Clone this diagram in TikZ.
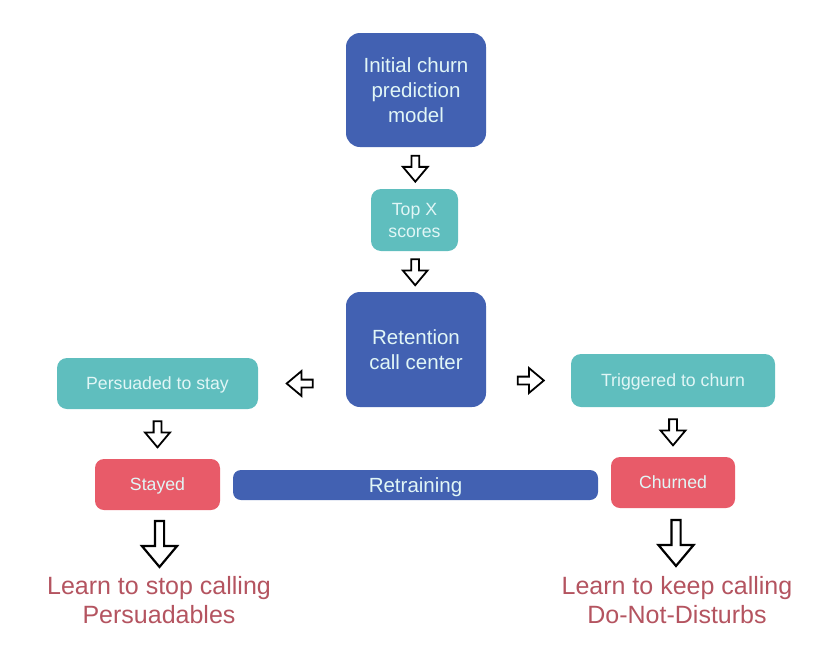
\documentclass[tikz,border=0pt]{standalone}
\usepackage{fontspec}
\setmainfont{Liberation Sans}
\usetikzlibrary{shapes.arrows}
\usetikzlibrary{calc}
\definecolor{boxblue}{RGB}{66,97,178}
\definecolor{boxteal}{RGB}{95,190,190}
\definecolor{boxred}{RGB}{232,91,105}
\definecolor{learnred}{RGB}{180,84,96}
\definecolor{boxtext}{RGB}{225,246,246}
\tikzset{
	bigbox/.style={rectangle,rounded corners=14pt,fill=boxblue,text=boxtext,align=center,inner sep=0pt,text depth=0pt,font=\fontsize{20.5}{25}\selectfont},
	tealbox/.style={rectangle,rounded corners=10pt,fill=boxteal,text=boxtext,align=center,inner sep=0pt,text depth=0pt,font=\fontsize{17.7}{22}\selectfont},
	redbox/.style={rectangle,rounded corners=9pt,fill=boxred,text=boxtext,align=center,inner sep=0pt,text depth=0pt,font=\fontsize{17.7}{22}\selectfont},
	learn/.style={text=learnred,align=center,inner sep=0pt,font=\fontsize{25}{29}\selectfont},
	blockarrow/.style={single arrow,draw=black,fill=white,line width=1.8pt,inner sep=3pt,minimum height=26pt,single arrow head extend=8.5pt,single arrow tip angle=80},
	bigarrow/.style={single arrow,draw=black,fill=white,line width=2.2pt,inner sep=3.5pt,minimum height=46pt,single arrow head extend=13pt,single arrow tip angle=80},
}

\begin{document}
\begin{tikzpicture}[x=1pt,y=-1pt]
\useasboundingbox (0,0) rectangle (838,659);

\node[bigbox,minimum width=140pt,minimum height=114pt] (model) at (416,90) {Initial churn\\prediction\\model};
\node[tealbox,minimum width=87pt,minimum height=62pt] (topx) at (414.5,220) {Top X\\scores};
\node[bigbox,minimum width=140pt,minimum height=115pt] (callctr) at (416,349.5) {Retention\\call center};
\node[tealbox,minimum width=201pt,minimum height=51pt] (persuaded) at (157.5,383.5) {Persuaded to stay};
\node[tealbox,minimum width=204pt,minimum height=53pt] (triggered) at (673,380.5) {Triggered to churn};
\node[redbox,minimum width=125pt,minimum height=51pt] (stayed) at (157.5,484.5) {Stayed};
\node[redbox,minimum width=124pt,minimum height=51pt] (churned) at (673,482.5) {Churned};
\node[rectangle,rounded corners=8pt,fill=boxblue,text=boxtext,inner sep=0pt,text depth=0pt,font=\fontsize{20.5}{22}\selectfont,
  minimum width=365pt,minimum height=30pt] (retrain) at (415.5,485) {Retraining};
\node[learn] (learnstop) at (159,600) {Learn to stop calling\\Persuadables};
\node[learn] (learnkeep) at (677,600) {Learn to keep calling\\Do-Not-Disturbs};

% hollow block arrows
\node[blockarrow,shape border rotate=270] (a1) at ($(model.south)!0.46!(topx.north)$) {};
\node[blockarrow,shape border rotate=270] (a2) at ($(topx.south)!0.46!(callctr.north)$) {};
\node[blockarrow,shape border rotate=180] (a3) at ($(persuaded.east)!0.5!(callctr.west |- persuaded.east)$) {};
\node[blockarrow,shape border rotate=0] (a4) at ($(callctr.east |- triggered.west)!0.5!(triggered.west)$) {};
\node[blockarrow,shape border rotate=270] (a5) at ($(persuaded.south)!0.46!(stayed.north)$) {};
\node[blockarrow,shape border rotate=270] (a6) at ($(triggered.south)!0.46!(churned.north)$) {};
\node[bigarrow,shape border rotate=270] (a7) at ($(stayed.south)+(2,31)$) {};
\node[bigarrow,shape border rotate=270] (a8) at ($(churned.south)+(3,32)$) {};
\end{tikzpicture}
\end{document}
